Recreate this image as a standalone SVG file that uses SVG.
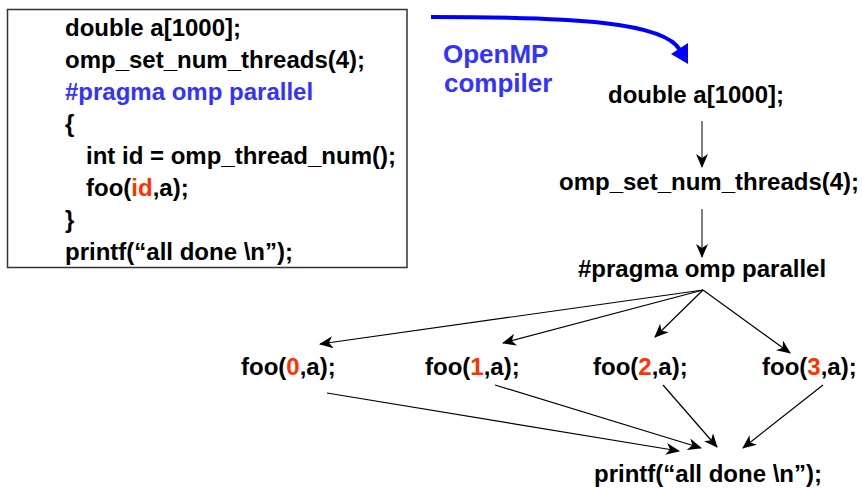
<svg xmlns="http://www.w3.org/2000/svg" width="862" height="490" viewBox="0 0 862 490">
  <style>
    text { font-family: "Liberation Sans", Arial, sans-serif; font-weight: bold; font-size: 24px; fill: #000; }
    .blue { fill: #3333ff; }
    .red { fill: #ff3300; }
    .label { font-size: 26px; }
    .edge { stroke: #000; stroke-width: 1.2; fill: none; marker-end: url(#head); }
    .vedge { stroke: #555; stroke-width: 1.5; fill: none; marker-end: url(#head); }
  </style>
  <defs>
    <marker id="head" viewBox="0 0 14 12" refX="13" refY="6" markerWidth="14" markerHeight="12" markerUnits="userSpaceOnUse" orient="auto">
      <path d="M0,0 L14,6 L0,12 L4,6 z" fill="#000"/>
    </marker>
  </defs>

  <rect width="862" height="490" fill="#fff"/>

  <!-- source listing -->
  <g id="source">
    <rect x="7.5" y="9.5" width="399.5" height="258" fill="#fff" stroke="#333" stroke-width="1.5"/>
    <text x="65" y="36">double a[1000];</text>
    <text x="65" y="68">omp_set_num_threads(4);</text>
    <text x="65" y="100" class="blue">#pragma omp parallel</text>
    <text x="65" y="132">{</text>
    <text x="86" y="164">int id = omp_thread_num();</text>
    <text x="86" y="196">foo(<tspan class="red">id</tspan>,a);</text>
    <text x="65" y="228">}</text>
    <text x="65" y="260">printf(“all done \n”);</text>
  </g>

  <g id="compiler-label">
    <text x="443" y="63" class="blue label">OpenMP</text>
    <text x="444" y="92" class="blue label">compiler</text>
  </g>

  <!-- execution graph nodes -->
  <g id="decl"><text x="608" y="103">double a[1000];</text></g>
  <g id="setthreads"><text x="559" y="190">omp_set_num_threads(4);</text></g>
  <g id="pragma"><text x="578" y="277">#pragma omp parallel</text></g>
  <g id="foo0"><text x="241" y="375">foo(<tspan class="red">0</tspan>,a);</text></g>
  <g id="foo1"><text x="425" y="375">foo(<tspan class="red">1</tspan>,a);</text></g>
  <g id="foo2"><text x="593" y="375">foo(<tspan class="red">2</tspan>,a);</text></g>
  <g id="foo3"><text x="762" y="375">foo(<tspan class="red">3</tspan>,a);</text></g>
  <g id="printf"><text x="594" y="482">printf(“all done \n”);</text></g>

  <g id="connectors">
    <!-- compile step -->
    <path d="M431,17 C575,17 664,22 680,50" stroke="#0000ff" stroke-width="4" fill="none"/>
    <polygon points="688,64 671,54 688,43" fill="#0000ff"/>
    <!-- sequential part -->
    <line x1="702" y1="121" x2="702" y2="167" class="vedge"/>
    <line x1="702" y1="209" x2="702" y2="257" class="vedge"/>
    <!-- fork -->
    <line x1="703" y1="290" x2="320" y2="344" class="edge"/>
    <line x1="703" y1="290" x2="503" y2="343" class="edge"/>
    <line x1="703" y1="290" x2="655" y2="337" class="edge"/>
    <line x1="703" y1="290" x2="790" y2="353" class="edge"/>
    <!-- join -->
    <line x1="327" y1="393" x2="679" y2="451" class="edge"/>
    <line x1="495" y1="385" x2="701" y2="448" class="edge"/>
    <line x1="663" y1="385" x2="717" y2="447" class="edge"/>
    <line x1="823" y1="385" x2="743" y2="448" class="edge"/>
  </g>
</svg>
